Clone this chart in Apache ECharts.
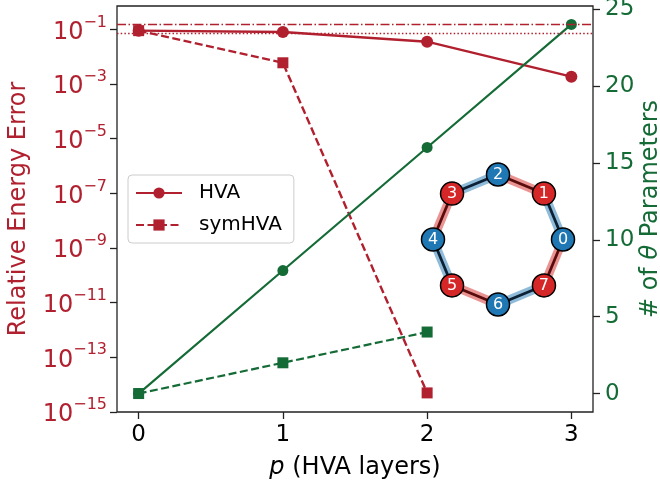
<!DOCTYPE html>
<html>
<head>
<meta charset="utf-8">
<script src="https://cdn.jsdelivr.net/npm/echarts@6/dist/echarts.min.js"></script>
<style>
  html, body { margin: 0; padding: 0; background: #fff; }
  #chart { width: 660px; height: 483px; }
</style>
</head>
<body>
<div id="chart"></div>
<script>
// data
var layers = [0, 1, 2, 3]
var hvaError = [0.09, 0.080, 0.0355, 0.00186]
var symError = [0.09, 0.006, 5e-15]
var hvaParams = [0, 8, 16, 24]
var symParams = [0, 2, 4]
var refDashDot = 0.148
var refDotted = 0.072
var errTicks = [-15, -13, -11, -9, -7, -5, -3, -1]
var paramTicks = [0, 5, 10, 15, 20, 25]
var layerTicks = [0, 1, 2, 3]
var ringNodes = ['0', '1', '2', '3', '4', '5', '6', '7']

var RED = '#b1202f', GREEN = '#146b36', FONT = 'DejaVu Sans'

function logPts(vals) {
  return vals.map(function (v, i) { return [layers[i], Math.log10(v)] })
}
function pts(vals) {
  return vals.map(function (v, i) { return [layers[i], v] })
}

// ring inset: node i sits at angle -45*i deg, even nodes blue, odd red
var nodes = ringNodes.map(function (n, i) {
  var a = -i * Math.PI / 4
  return {
    name: n, x: Math.cos(a), y: Math.sin(a),
    itemStyle: { color: i % 2 ? '#d62728' : '#1f77b4' }
  }
})
function ringLinks(halo) {
  return ringNodes.map(function (n, i) {
    var odd = i % 2 === 1
    return {
      source: n, target: ringNodes[(i + 1) % 8],
      lineStyle: halo
        ? { color: odd ? '#d62728' : '#1f77b4', width: 9, opacity: 0.5 }
        : { color: odd ? '#5a0c0c' : '#0c2136', width: 2.8, opacity: 1 }
    }
  })
}
var ringBox = { left: 433, top: 174.5, width: 130, height: 130 }

var tickStyle = { color: '#222', width: 1.3 }

var chart = echarts.init(document.getElementById('chart'))
chart.setOption({
  animation: false,
  textStyle: { fontFamily: FONT },
  grid: {
    left: 117, right: 67, top: 6, bottom: 71, outerBoundsMode: 'none',
    show: true, borderColor: '#222', borderWidth: 1.3
  },
  legend: {
    data: ['HVA', 'symHVA'],
    orient: 'vertical', left: 128, top: 175,
    padding: [8, 12, 8, 7], itemGap: 12, itemWidth: 46, itemHeight: 14,
    backgroundColor: '#fff', borderColor: '#ccc', borderWidth: 1, borderRadius: 4,
    textStyle: { fontSize: 20, color: '#000', fontFamily: FONT, padding: [0, 0, 0, 12] }
  },
  xAxis: {
    type: 'value', min: -0.15, max: 3.15,
    name: '{i|p} (HVA layers)', nameLocation: 'middle', nameGap: 44, nameMoveOverlap: false,
    nameTextStyle: { fontSize: 24, color: '#000', fontFamily: FONT,
      rich: { i: { fontSize: 24, fontStyle: 'italic', fontFamily: FONT, color: '#000' } } },
    axisLine: { show: false, onZero: false },
    axisTick: { show: true, length: 7, customValues: layerTicks, lineStyle: tickStyle },
    axisLabel: { customValues: layerTicks, fontSize: 23, color: '#000', margin: 12 },
    splitLine: { show: false }
  },
  yAxis: [{
    type: 'value', min: -15, max: -0.144, position: 'left',
    name: 'Relative Energy Error', nameLocation: 'middle', nameGap: 86, nameMoveOverlap: false,
    nameTextStyle: { fontSize: 24, color: RED, fontFamily: FONT },
    axisLine: { show: false, onZero: false },
    axisTick: { show: true, length: 7, customValues: errTicks, lineStyle: tickStyle },
    axisLabel: {
      customValues: errTicks, margin: 10, color: RED,
      formatter: function (v) { return '{b|10}{s|\u2212' + Math.round(Math.abs(v)) + '}' },
      rich: {
        b: { fontSize: 24, color: RED, fontFamily: FONT, lineHeight: 30, verticalAlign: 'bottom' },
        s: { fontSize: 16, color: RED, fontFamily: FONT, lineHeight: 18, verticalAlign: 'top' }
      }
    },
    splitLine: { show: false }
  }, {
    type: 'value', min: -1.2, max: 25.2, position: 'right',
    name: '# of {i|\u03b8} Parameters', nameLocation: 'middle', nameGap: 46, nameMoveOverlap: false,
    nameTextStyle: { fontSize: 24, color: GREEN, fontFamily: FONT,
      rich: { i: { fontSize: 24, fontStyle: 'italic', color: GREEN, fontFamily: FONT } } },
    axisLine: { show: false, onZero: false },
    axisTick: { show: true, length: 7, customValues: paramTicks, lineStyle: tickStyle },
    axisLabel: { customValues: paramTicks, fontSize: 23, color: GREEN, margin: 12 },
    splitLine: { show: false }
  }],
  series: [
    {
      name: 'HVA', type: 'line', yAxisIndex: 0, data: logPts(hvaError),
      symbol: 'circle', symbolSize: 12,
      lineStyle: { color: RED, width: 2.4 }, itemStyle: { color: RED },
      markLine: {
        silent: true, symbol: 'none', label: { show: false },
        data: [
          { yAxis: Math.log10(refDashDot), lineStyle: { color: RED, width: 1.3, type: [9, 2.5, 1.5, 2.5] } },
          { yAxis: Math.log10(refDotted), lineStyle: { color: RED, width: 1.3, type: [1.5, 2.2] } }
        ]
      }
    },
    {
      name: 'symHVA', type: 'line', yAxisIndex: 0, data: logPts(symError),
      symbol: 'rect', symbolSize: 11,
      lineStyle: { color: RED, width: 2.4, type: [8, 3.5] }, itemStyle: { color: RED }
    },
    {
      name: 'HVA params', type: 'line', yAxisIndex: 1, data: pts(hvaParams),
      symbol: 'circle', symbolSize: 11,
      lineStyle: { color: GREEN, width: 2.2 }, itemStyle: { color: GREEN }
    },
    {
      name: 'symHVA params', type: 'line', yAxisIndex: 1, data: pts(symParams),
      symbol: 'rect', symbolSize: 11,
      lineStyle: { color: GREEN, width: 2.2, type: [8, 3.5] }, itemStyle: { color: GREEN }
    },
    Object.assign({
      type: 'graph', layout: 'none', roam: false, silent: true, z: 5,
      symbolSize: 0, label: { show: false },
      data: nodes, links: ringLinks(true)
    }, ringBox),
    Object.assign({
      type: 'graph', layout: 'none', roam: false, silent: true, z: 6,
      symbolSize: 23,
      itemStyle: { borderColor: '#000', borderWidth: 1.5 },
      label: { show: true, position: 'inside', color: '#fff', fontSize: 16, fontFamily: FONT },
      data: nodes, links: ringLinks(false)
    }, ringBox)
  ]
})
</script>
</body>
</html>
